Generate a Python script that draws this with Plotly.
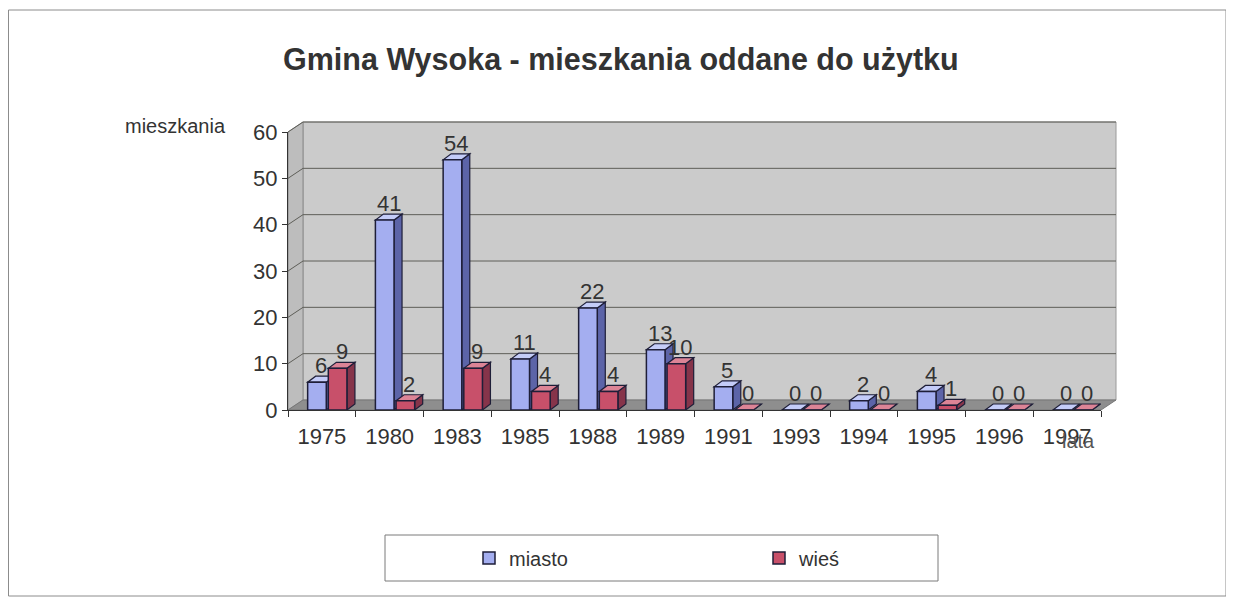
import plotly.graph_objects as go

years = ["1975", "1980", "1983", "1985", "1988", "1989", "1991", "1993", "1994", "1995", "1996", "1997"]
miasto = [6, 41, 54, 11, 22, 13, 5, 0, 2, 4, 0, 0]
wies = [9, 2, 9, 4, 4, 10, 0, 0, 0, 1, 0, 0]
y_ticks = [0, 10, 20, 30, 40, 50, 60]

# page has an 8px body margin: the figure is shifted by OFF px
OFF = 8
W, H = 1234 - OFF, 598 - OFF


def px(x):
    return (x - OFF) / W


def py(y):
    return 1 - (y - OFF) / H


# plot area in target-picture pixels (front face)
PX0, PX1 = 288, 1101
PY0, PY1 = 410, 132  # y=0 and y=60
YMAX = 60
ncat = len(years)

dom_x = [px(PX0), px(PX1)]
dom_y = [py(PY0), py(PY1)]
px_per_x = (PX1 - PX0) / ncat
px_per_y = (PY0 - PY1) / YMAX

# wall depth (pixels) and bar depth (pixels)
WDX, WDY = 15, 10
BDX, BDY = 8, 6
wdxf = WDX / (PX1 - PX0)
wdyf = WDY / (PY0 - PY1)
bdx = BDX / px_per_x
bdy = BDY / px_per_y

bw = 0.275
off_m = -0.21
off_w = 0.095

col_m = dict(front="#A4AEF0", side="#5C64A8", top="#C4CCF8")
col_w = dict(front="#C8506A", side="#86344A", top="#DC8496")
edge = "#1E1E38"
txt = "#333333"
FONT = "Liberation Sans, Arial, sans-serif"

fig = go.Figure()
fig.add_trace(go.Bar(x=years, y=miasto, name="miasto", width=bw, offset=off_m,
                     marker=dict(color=col_m["front"], line=dict(color=edge, width=1.5)),
                     hoverinfo="x+y"))
fig.add_trace(go.Bar(x=years, y=wies, name="wieś", width=bw, offset=off_w,
                     marker=dict(color=col_w["front"], line=dict(color=edge, width=1.5)),
                     hoverinfo="x+y"))

shapes = []
dref = dict(xref="x domain", yref="y domain", layer="below")
# back wall
shapes.append(dict(type="rect", x0=wdxf, x1=1 + wdxf, y0=wdyf, y1=1 + wdyf,
                   fillcolor="#CBCBCB", line=dict(color="#9A9A9A", width=1), **dref))
# left wall
shapes.append(dict(type="path",
                   path=f"M 0 0 L 0 1 L {wdxf} {1 + wdyf} L {wdxf} {wdyf} Z",
                   fillcolor="#BDBDBD", line=dict(color="#8A8A8A", width=1), **dref))
# floor
shapes.append(dict(type="path",
                   path=f"M 0 0 L 1 0 L {1 + wdxf} {wdyf} L {wdxf} {wdyf} Z",
                   fillcolor="#8E8E8E", line=dict(color="#777777", width=1), **dref))
# gridlines on wall
for v in y_ticks[1:]:
    f = v / YMAX
    shapes.append(dict(type="line", x0=wdxf, x1=1 + wdxf, y0=f + wdyf, y1=f + wdyf,
                       line=dict(color="#5E5E58", width=1), **dref))
    shapes.append(dict(type="line", x0=0, x1=wdxf, y0=f, y1=f + wdyf,
                       line=dict(color="#5E5E58", width=1), **dref))


# 3D faces of bars
def faces(vals, off, col):
    out = []
    for i, v in enumerate(vals):
        l = i + off
        r = l + bw
        out.append(dict(type="path", xref="x", yref="y", layer="below",
                        path=f"M {r} 0 L {r} {v} L {r + bdx} {v + bdy} L {r + bdx} {bdy} Z",
                        fillcolor=col["side"], line=dict(color=edge, width=1.2)))
        out.append(dict(type="path", xref="x", yref="y", layer="below",
                        path=f"M {l} {v} L {r} {v} L {r + bdx} {v + bdy} L {l + bdx} {v + bdy} Z",
                        fillcolor=col["top"], line=dict(color=edge, width=1.2)))
    return out


shapes += faces(miasto, off_m, col_m)
shapes += faces(wies, off_w, col_w)

# outer frame
shapes.append(dict(type="rect", xref="paper", yref="paper", x0=0.5 / W, x1=px(1226),
                   y0=py(596), y1=py(10), line=dict(color="#8C8C8C", width=1),
                   fillcolor="rgba(0,0,0,0)", layer="below"))
# legend frame
shapes.append(dict(type="rect", xref="paper", yref="paper", x0=px(385), x1=px(938),
                   y0=py(581), y1=py(535), line=dict(color="#7A7A7A", width=1),
                   fillcolor="white", layer="below"))

annotations = []
for vals, off in ((miasto, off_m), (wies, off_w)):
    for i, v in enumerate(vals):
        annotations.append(dict(x=i + off + bw / 2, y=v + bdy, xref="x", yref="y",
                                text=str(v), showarrow=False, xanchor="center",
                                yanchor="bottom", xshift=4, yshift=-4,
                                font=dict(family=FONT, size=22, color=txt)))

annotations.append(dict(x=px(175), y=py(126), xref="paper", yref="paper",
                        text="mieszkania", showarrow=False, xanchor="center", yanchor="middle",
                        font=dict(family=FONT, size=20, color=txt)))
annotations.append(dict(x=px(1078), y=py(441), xref="paper", yref="paper",
                        text="lata", showarrow=False, xanchor="center", yanchor="middle",
                        font=dict(family=FONT, size=20, color="#555555")))
annotations.append(dict(x=px(621), y=py(60), xref="paper", yref="paper",
                        text="<b>Gmina Wysoka - mieszkania oddane do użytku</b>",
                        showarrow=False, xanchor="center", yanchor="middle",
                        font=dict(family="Liberation Sans Narrow, Arial Narrow, Liberation Sans, Arial",
                                  size=30.5, color=txt)))

fig.update_layout(
    template="none",
    width=W, height=H,
    margin=dict(l=0, r=0, t=0, b=0, pad=0, autoexpand=False),
    paper_bgcolor="white",
    plot_bgcolor="rgba(0,0,0,0)",
    showlegend=True,
    legend=dict(orientation="h", x=px(469), y=py(558), xanchor="left", yanchor="middle",
                entrywidth=245, entrywidthmode="pixels",
                bgcolor="rgba(0,0,0,0)", borderwidth=0,
                font=dict(family=FONT, size=20, color=txt)),
    xaxis=dict(type="category", domain=dom_x, range=[-0.5, ncat - 0.5],
               tickson="boundaries", ticks="outside", ticklen=6, tickcolor="#333333",
               showline=True, linecolor="#333333", linewidth=1, showgrid=False,
               automargin=False, ticklabelstandoff=7,
               tickfont=dict(family=FONT, size=22, color=txt), fixedrange=True),
    yaxis=dict(domain=dom_y, range=[0, YMAX], tickvals=y_ticks, ticks="outside",
               ticklen=5, tickcolor="#333333", showline=True, linecolor="#333333",
               linewidth=1, showgrid=False, zeroline=False, automargin=False,
               tickfont=dict(family=FONT, size=22, color=txt), fixedrange=True),
    shapes=shapes,
    annotations=annotations,
    bargap=0.4,
)

fig.write_html("out.html")
